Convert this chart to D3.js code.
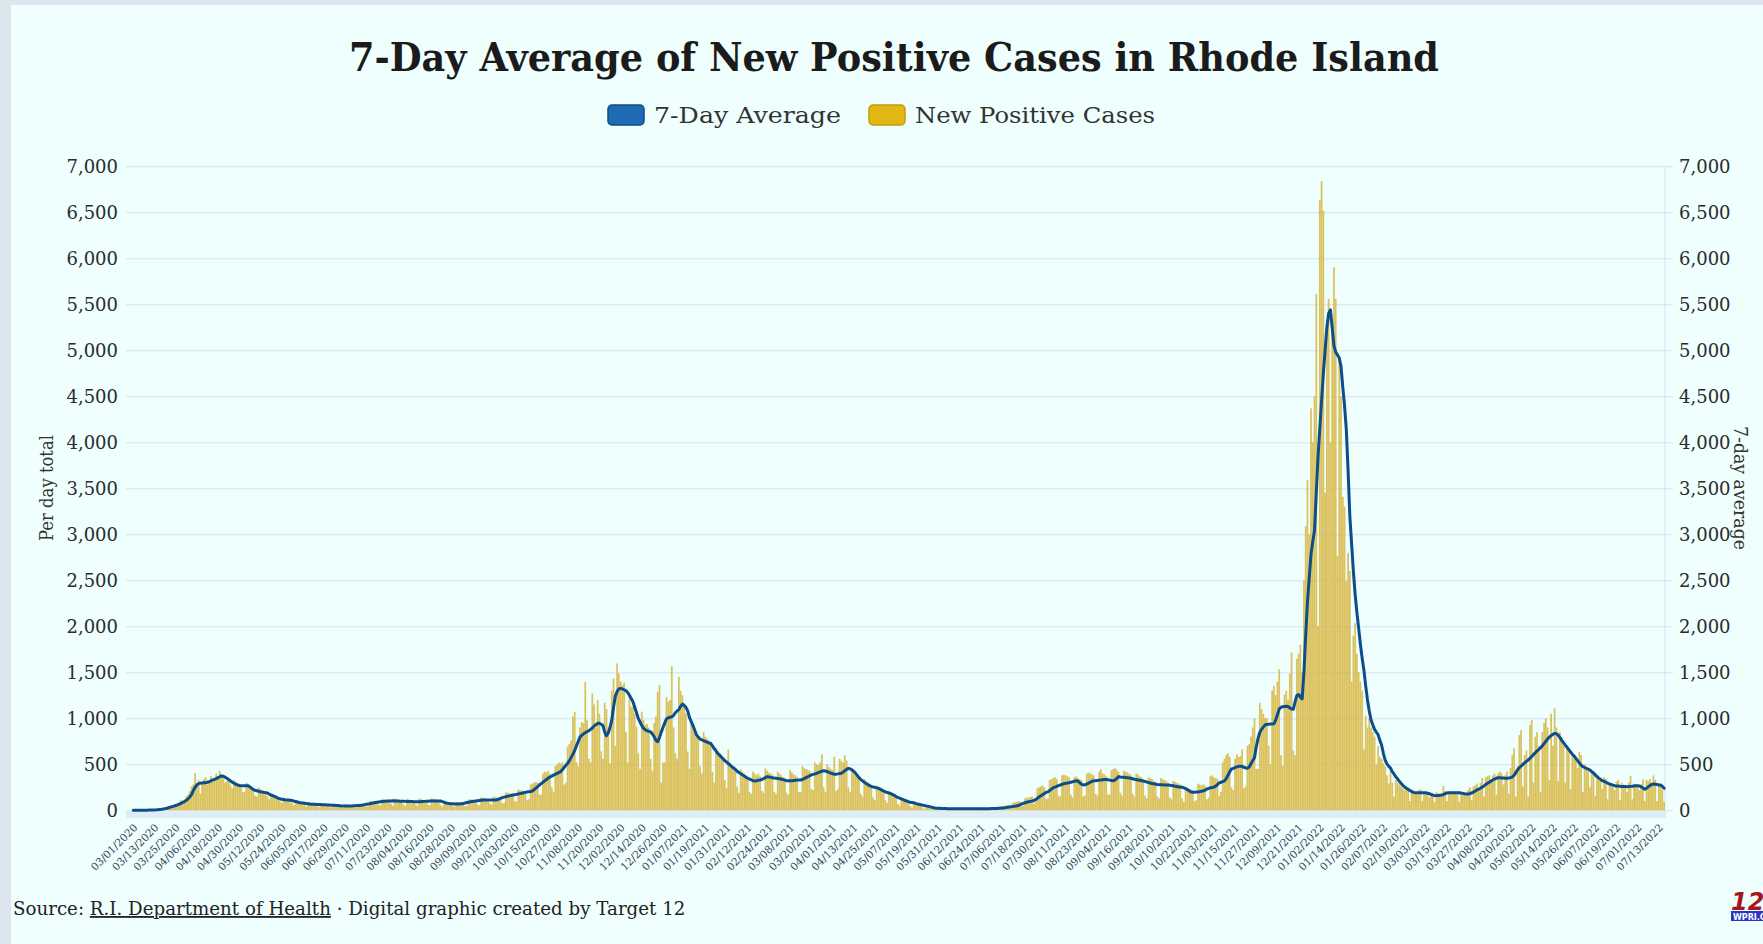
<!DOCTYPE html>
<html lang="en">
<head>
<meta charset="UTF-8">
<title>7-Day Average of New Positive Cases in Rhode Island</title>
<script src="https://d3js.org/d3.v7.min.js"></script>
<style>
  html, body { margin: 0; padding: 0; background: #dde5ee; }
  svg { display: block; font-family: "DejaVu Serif", serif; }
</style>
</head>
<body>
<svg id="chart" width="1763" height="944"></svg>
<script>
// one row per week, first row starts Sunday 03/01/2020
const newCasesByWeek = [
  [0,1,0,0,0,1,2],[1,2,3,2,4,6,8],[9,14,16,20,30,34,40],[45,52,60,58,70,85,110],
  [95,120,150,170,210,260,280],[405,300,330,180,310,340,360],[280,310,370,330,350,400,370],[430,390,350,300,320,330,280],
  [240,330,310,280,290,250,200],[200,300,290,260,250,230,160],[150,250,230,220,210,200,150],[120,190,180,160,150,140,100],
  [80,140,130,125,120,115,80],[55,115,105,95,90,85,55],[40,90,85,80,75,70,45],[35,80,75,70,68,60,40],
  [30,70,65,60,58,55,35],[25,65,60,55,52,50,30],[30,70,68,65,60,62,40],[45,100,95,90,92,85,60],
  [55,125,120,115,110,105,70],[50,130,120,115,110,105,65],[45,125,118,112,110,100,60],[50,128,120,115,112,105,60],
  [55,130,125,120,115,110,60],[40,95,90,85,80,75,45],[38,92,90,85,88,80,42],[50,120,118,115,112,110,60],
  [55,140,135,130,125,120,75],[60,150,145,140,135,130,75],[80,195,190,185,180,170,100],[95,225,220,215,210,200,110],
  [120,280,290,300,310,300,170],[170,400,420,410,430,400,250],[200,480,500,520,510,520,280],[300,690,720,760,1020,1070,520],
  [480,900,960,950,1397,981,560],[520,1271,1150,900,1198,1050,640],[560,1169,1100,900,510,1300,1433],[700,1596,1488,1400,1361,1386,850],
  [520,1250,1126,1126,1050,908,620],[450,1072,980,927,938,900,560],[430,950,1020,1289,1361,300,520],[520,1230,1180,1198,1567,900,620],
  [560,1450,1300,1250,1144,1050,640],[450,988,900,850,800,780,480],[400,850,800,780,760,720,420],[300,680,640,620,600,560,330],
  [240,662,520,480,470,440,260],[190,450,420,400,380,340,200],[180,420,400,380,400,370,210],[190,456,430,410,400,390,200],
  [180,420,400,380,360,350,190],[170,440,410,390,380,360,200],[200,480,460,450,440,430,230],[220,520,500,492,520,608,250],
  [200,500,470,450,440,583,210],[230,560,540,520,600,540,250],[200,456,420,400,380,360,180],[150,340,320,300,290,260,140],
  [110,270,250,240,230,210,110],[80,190,180,170,160,140,70],[50,120,110,100,100,90,45],[30,80,70,65,60,55,30],
  [15,38,35,30,28,25,12],[10,26,24,22,20,18,8],[9,25,24,22,21,19,8],[8,24,23,21,20,18,7],
  [9,25,24,22,21,20,8],[10,28,26,25,24,22,9],[15,40,42,45,50,55,25],[30,80,85,90,95,100,45],
  [50,130,135,140,145,150,70],[90,240,250,260,270,250,120],[130,330,340,350,360,340,160],[150,380,390,380,370,360,170],
  [140,360,370,350,340,330,150],[160,400,410,400,390,380,180],[160,420,448,400,390,370,170],[170,440,450,457,440,420,190],
  [160,430,420,410,400,380,180],[150,400,390,370,360,340,160],[130,360,350,340,320,310,150],[130,350,340,330,320,300,140],
  [120,320,310,300,290,280,130],[90,250,240,230,230,220,100],[110,290,280,270,280,270,120],[140,370,380,360,350,340,160],
  [200,520,560,600,620,580,250],[220,560,608,580,590,663,240],[260,700,720,800,900,1000,450],[450,1167,1100,1050,1006,1000,700],
  [500,1300,1350,1250,1400,1533,600],[480,1258,1300,1200,1487,1716,650],[600,1647,1700,1800,1500,2500,3088],[3591,3000,4369,4000,4500,5614,2000],
  [6634,6840,6519,3454,5300,5559,4000],[5200,5902,5559,2768,4900,4500,3408],[3300,2493,2800,2600,1400,1899,2036],[1700,1500,1400,1300,663,1029,900],
  [1000,900,850,800,500,700,580],[560,510,480,380,293,420,300],[150,330,300,280,260,240,220],[240,230,100,210,200,190,180],
  [220,230,100,200,190,180,140],[160,190,90,200,180,170,174],[264,210,100,200,190,180,200],[200,210,90,190,185,180,190],
  [220,250,110,260,270,290,210],[300,350,150,360,370,380,320],[380,400,170,400,420,400,280],[380,420,180,460,601,673,150],
  [480,818,872,260,600,650,150],[927,981,300,800,850,700,200],[850,950,1000,900,330,1050,700],[1108,900,320,850,800,700,300],
  [700,650,230,600,560,580,460],[637,600,200,500,450,430,250],[420,400,160,380,340,320,230],[360,340,120,300,280,260,220],
  [311,330,110,300,280,270,200],[300,373,120,290,280,270,220],[280,337,100,330,320,340,270],[380,330,100,290,260,220,90]
];

const sevenDayAvgByWeek = [
  [0,0,0,0,0,1,1],[1,1,2,2,3,4,5],[7,9,11,14,18,22,28],[34,40,46,52,58,66,76],
  [86,94,108,125,145,170,215],[250,275,290,295,298,300,300],[305,312,320,330,337,345,355],[365,373,370,360,348,335,320],
  [305,295,285,275,270,268,268],[268,268,268,255,240,225,218],[212,207,202,198,195,192,188],[175,165,159,150,142,133,125],
  [120,118,115,113,112,110,106],[100,95,90,85,82,80,77],[74,72,69,67,66,65,64],[63,62,61,60,59,58,57],
  [56,55,54,52,51,50,48],[47,47,46,46,47,48,49],[50,51,52,55,58,62,66],[69,72,76,80,84,88,91],
  [93,95,97,99,100,101,102],[103,102,101,100,99,98,98],[97,96,96,95,95,94,94],[94,94,95,96,97,98,99],
  [100,100,101,101,102,101,101],[95,88,80,76,73,71,70],[69,69,69,70,72,75,80],[84,88,92,95,98,101,104],
  [107,110,112,112,112,112,112],[112,112,112,115,122,130,138],[143,148,152,157,162,166,170],[173,177,181,185,190,195,199],
  [201,203,210,225,240,258,275],[290,305,320,335,350,362,372],[382,392,400,410,420,440,465],[490,510,540,575,610,650,700],
  [750,795,815,830,845,854,865],[880,895,916,930,945,945,935],[920,850,810,840,900,980,1120],[1240,1290,1320,1325,1320,1310,1300],
  [1280,1250,1215,1180,1120,1060,1000],[960,920,890,875,865,858,854],[830,800,760,746,790,850,900],[950,995,1005,1012,1017,1030,1060],
  [1080,1095,1130,1155,1140,1119,1080],[1010,963,920,870,818,795,775],[765,757,748,740,732,728,700],[670,645,619,600,580,560,540],
  [525,507,490,474,460,445,425],[410,398,385,372,360,348,338],[330,322,319,322,326,329,335],[345,355,366,362,358,354,350],
  [348,346,342,338,334,328,322],[320,320,322,324,326,328,329],[329,335,345,355,365,375,385],[390,395,402,410,418,425,431],
  [428,420,412,405,398,391,393],[396,400,402,415,430,445,456],[450,440,425,405,380,355,337],[320,305,292,280,268,260,254],
  [249,244,239,230,220,210,200],[193,188,182,172,162,150,140],[133,125,117,109,101,94,88],[85,82,76,70,65,60,56],
  [52,48,45,40,35,30,26],[23,22,21,20,19,19,18],[18,18,18,18,18,18,18],[18,18,17,17,17,17,17],
  [17,17,17,17,17,18,18],[18,18,18,19,19,20,20],[21,22,24,26,29,32,36],[38,40,43,46,52,60,68],
  [76,82,88,93,97,101,106],[115,130,145,158,170,183,195],[200,215,230,245,252,260,268],[275,282,288,293,297,300,305],
  [310,315,320,318,300,285,275],[278,285,295,305,315,320,322],[325,328,330,332,334,334,332],[328,324,320,330,345,366,362],
  [360,358,356,354,352,348,343],[338,334,330,326,322,318,314],[308,303,297,292,288,284,280],[279,278,277,276,275,275,273],
  [270,266,262,258,254,252,250],[245,236,225,212,200,197,196],[198,200,203,206,212,220,230],[238,244,248,252,262,280,298],
  [305,312,320,345,380,420,450],[455,465,472,478,480,476,468],[460,458,470,505,540,572,690],[780,846,880,905,929,933,936],
  [938,938,940,980,1040,1100,1121],[1125,1128,1130,1128,1115,1100,1098],[1180,1250,1258,1230,1212,1500,1900],[2265,2520,2780,2920,3042,3450,3850],
  [4150,4450,4750,5000,5250,5400,5440],[5250,5050,4980,4950,4918,4827,4600],[4400,4140,3700,3200,2900,2600,2350],[2150,1980,1800,1650,1520,1350,1200],
  [1080,984,930,880,850,823,760],[709,620,545,505,480,460,420],[395,365,343,315,293,272,255],[240,228,215,205,195,192,192],
  [192,192,192,192,190,185,180],[172,165,159,160,162,164,166],[172,180,188,192,192,192,192],[192,192,190,187,184,180,178],
  [177,180,188,198,210,221,230],[240,252,265,280,293,305,318],[330,340,348,355,355,352,350],[348,348,350,355,362,380,410],
  [440,462,481,498,515,532,547],[565,585,605,625,645,660,680],[700,725,750,775,795,812,825],[836,832,818,790,760,735,709],
  [685,660,635,610,590,565,540],[515,492,475,465,455,447,438],[420,405,385,366,350,336,322],[315,305,295,288,280,274,268],
  [265,263,261,260,259,258,257],[258,260,262,265,267,268,265],[255,242,228,240,255,270,282],[286,284,280,276,275,260,239]
];

// x tick labels, one every 12 days
const xTickLabels = [
  "03/01/2020","03/13/2020","03/25/2020","04/06/2020","04/18/2020","04/30/2020","05/12/2020","05/24/2020",
  "06/05/2020","06/17/2020","06/29/2020","07/11/2020","07/23/2020","08/04/2020","08/16/2020","08/28/2020",
  "09/09/2020","09/21/2020","10/03/2020","10/15/2020","10/27/2020","11/08/2020","11/20/2020","12/02/2020",
  "12/14/2020","12/26/2020","01/07/2021","01/19/2021","01/31/2021","02/12/2021","02/24/2021","03/08/2021",
  "03/20/2021","04/01/2021","04/13/2021","04/25/2021","05/07/2021","05/19/2021","05/31/2021","06/12/2021",
  "06/24/2021","07/06/2021","07/18/2021","07/30/2021","08/11/2021","08/23/2021","09/04/2021","09/16/2021",
  "09/28/2021","10/10/2021","10/22/2021","11/03/2021","11/15/2021","11/27/2021","12/09/2021","12/21/2021",
  "01/02/2022","01/14/2022","01/26/2022","02/07/2022","02/19/2022","03/03/2022","03/15/2022","03/27/2022",
  "04/08/2022","04/20/2022","05/02/2022","05/14/2022","05/26/2022","06/07/2022","06/19/2022","07/01/2022",
  "07/13/2022"
];
const yTicks = [0,500,1000,1500,2000,2500,3000,3500,4000,4500,5000,5500,6000,6500,7000];

const newCases = newCasesByWeek.flat();
const sevenDayAvg = sevenDayAvgByWeek.flat();
const days = d3.range(newCases.length);

const W = 1763, H = 944;
const svg = d3.select("#chart");

// panel
svg.append("rect").attr("x", 11).attr("y", 5).attr("width", W - 11).attr("height", H - 5)
  .attr("fill", "#eefffd");

const x = d3.scaleBand().domain(days).range([132.4, 1665]);
const y = d3.scaleLinear().domain([0, 7000]).range([810.3, 166.3]);

// title + legend
svg.append("text").attr("x", 894).attr("y", 71).attr("text-anchor", "middle")
  .attr("font-size", 40).attr("font-weight", "bold").attr("fill", "#1b1b1b")
  .attr("textLength", 1090).attr("lengthAdjust", "spacingAndGlyphs")
  .text("7-Day Average of New Positive Cases in Rhode Island");

const legend = [
  {label: "7-Day Average", fill: "#1e6bb3", stroke: "#0f4c86", x: 608, tx: 654, w: 187},
  {label: "New Positive Cases", fill: "#e1b714", stroke: "#c49d0c", x: 869, tx: 915, w: 240}
];
const lg = svg.append("g").selectAll("g").data(legend).join("g");
lg.append("rect").attr("x", d => d.x).attr("y", 105).attr("width", 36).attr("height", 20).attr("rx", 4)
  .attr("fill", d => d.fill).attr("stroke", d => d.stroke).attr("stroke-width", 1.5);
lg.append("text").attr("x", d => d.tx).attr("y", 123).attr("font-size", 23).attr("fill", "#333")
  .attr("textLength", d => d.w).attr("lengthAdjust", "spacingAndGlyphs").text(d => d.label);

// grid
svg.append("g").attr("transform", "translate(126,0)")
  .call(d3.axisLeft(y).tickValues(yTicks).tickSize(-(1665 - 126)).tickFormat(""))
  .call(g => g.select(".domain").remove())
  .call(g => g.selectAll("line").attr("stroke", "#d3e2f6").attr("stroke-width", 1));

// pale band under the baseline
svg.append("rect").attr("x", 126).attr("y", y(0)).attr("width", 1665 - 126).attr("height", 8)
  .attr("fill", "#dfedf9");

// left axis labels
svg.append("g").attr("transform", "translate(126,0)")
  .call(d3.axisLeft(y).tickValues(yTicks).tickSize(0).tickPadding(8).tickFormat(d3.format(",")))
  .call(g => g.select(".domain").remove())
  .call(g => g.selectAll("text").attr("font-family", "DejaVu Serif").attr("font-size", 18).attr("fill", "#2b2b2b"));

// right axis
svg.append("line").attr("x1", 1665).attr("x2", 1665).attr("y1", y(7000)).attr("y2", y(0) + 8)
  .attr("stroke", "#d3e2f6");
svg.append("g").attr("transform", "translate(1665,0)")
  .call(d3.axisRight(y).tickValues(yTicks).tickSize(8).tickPadding(6).tickFormat(d3.format(",")))
  .call(g => g.select(".domain").remove())
  .call(g => g.selectAll("line").attr("stroke", "#d3e2f6"))
  .call(g => g.selectAll("text").attr("font-family", "DejaVu Serif").attr("font-size", 18).attr("fill", "#2b2b2b"));

// bars
svg.append("g").selectAll("rect").data(days).join("rect")
  .attr("x", d => x(d)).attr("width", x.bandwidth())
  .attr("y", d => y(newCases[d])).attr("height", d => y(0) - y(newCases[d]))
  .attr("fill", "#d8b43a").attr("fill-opacity", 0.82);

// 7-day average line
svg.append("path").datum(days)
  .attr("fill", "none").attr("stroke", "#0c4d8c").attr("stroke-width", 3)
  .attr("stroke-linejoin", "round").attr("stroke-linecap", "round")
  .attr("d", d3.line().x(d => x(d) + x.bandwidth() / 2).y(d => y(sevenDayAvg[d])));

// x axis labels
const xTickDays = xTickLabels.map((_, i) => i * 12);
svg.append("g").attr("transform", "translate(0,825)")
  .call(d3.axisBottom(x).tickValues(xTickDays).tickSize(0).tickPadding(0)
    .tickFormat((d, i) => xTickLabels[i]))
  .call(g => g.select(".domain").remove())
  .selectAll("text")
  .attr("font-family", "DejaVu Serif").attr("font-size", 10.5).attr("fill", "#333b52")
  .attr("text-anchor", "end").attr("y", 0).attr("dy", "0.55em").attr("dx", "0.1em")
  .attr("transform", "rotate(-45)");

// axis titles
svg.append("text").attr("transform", "translate(47,488) rotate(-90)").attr("text-anchor", "middle")
  .attr("dy", "0.35em").attr("font-size", 18).attr("fill", "#333")
  .attr("textLength", 106).attr("lengthAdjust", "spacingAndGlyphs").text("Per day total");
svg.append("text").attr("transform", "translate(1740,488) rotate(90)").attr("text-anchor", "middle")
  .attr("dy", "0.35em").attr("font-size", 18).attr("fill", "#333")
  .attr("textLength", 124).attr("lengthAdjust", "spacingAndGlyphs").text("7-day average");

// source line
const src = svg.append("text").attr("x", 13).attr("y", 915).attr("font-size", 18).attr("fill", "#222");
src.append("tspan").text("Source: ");
src.append("tspan").attr("text-decoration", "underline").text("R.I. Department of Health");
src.append("tspan").text(" \u00b7 Digital graphic created by Target 12");
const srcLen = src.node().getComputedTextLength();
src.attr("font-size", 18 * 673 / srcLen);

// station logo (cut at the right edge)
const logo = svg.append("g");
logo.append("text").attr("x", 1731).attr("y", 910).attr("font-family", "DejaVu Sans")
  .attr("font-weight", "bold").attr("font-style", "italic").attr("font-size", 24)
  .attr("fill", "#a5171b").text("12");
logo.append("rect").attr("x", 1731).attr("y", 911).attr("width", 40).attr("height", 10).attr("fill", "#2a33c4");
logo.append("text").attr("x", 1733).attr("y", 919.5).attr("font-family", "DejaVu Sans")
  .attr("font-weight", "bold").attr("font-size", 8).attr("fill", "#fff").text("WPRI.COM");
</script>
</body>
</html>
